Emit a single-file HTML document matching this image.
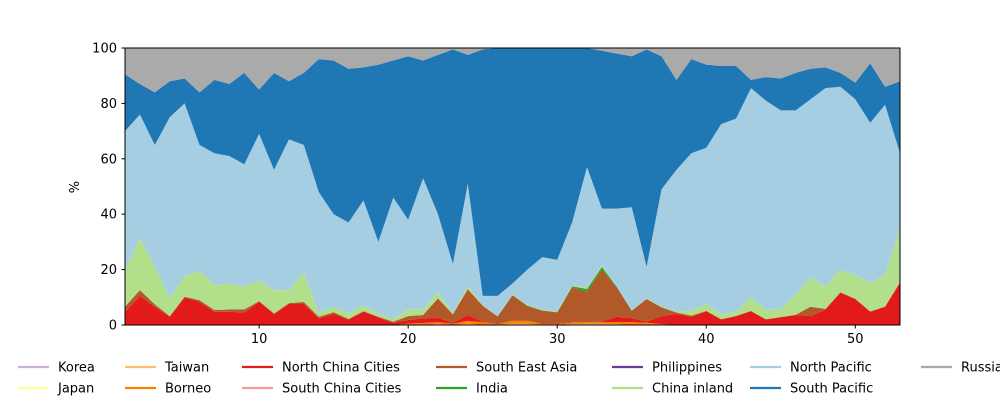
<!DOCTYPE html>
<html><head><meta charset="utf-8"><style>
body{margin:0;background:#fff;}
svg text{font-family:"DejaVu Sans","Liberation Sans",sans-serif;font-size:13px;fill:#000;}
</style></head><body>
<svg id="chart" width="1000" height="400" viewBox="0 0 1000 400" xmlns="http://www.w3.org/2000/svg">
<g id="areas"></g>
<rect x="125" y="48" width="775" height="277" fill="none" stroke="#000" stroke-width="1"/>
<g id="axes"></g>
<text x="79" y="187" text-anchor="middle" transform="rotate(-90 79 187)">%</text>
<g id="legend"></g>
</svg>
<script>
const weeks = Array.from({length:53},(_, i)=>i+1);
const seriesNames = ["Korea","Japan","Taiwan","Borneo","North China Cities","South China Cities","South East Asia","India","Philippines","China inland","North Pacific","South Pacific","Russia"];
const seriesColors = ["#cab2d6","#ffff99","#fdbf6f","#ff7f00","#e31a1c","#fb9a99","#b15928","#33a02c","#6a3d9a","#b2df8a","#a6cee3","#1f78b4","#aaaaaa"];
const korea = new Array(53).fill(0);
const japan = new Array(53).fill(0);
const taiwan = [0,0,0,0,0,0,0,0,0,0,0,0,0,0,0,0,0,0,0,0,0,0.3,0,0.5,0,0,0.5,0.4,0,0,0.3,0.4,0.4,0.3,0,0,0,0,0,0,0,0,0,0,0,0,0,0,0,0,0,0,0];
const borneo = [0,0,0,0,0,0,0,0,0,0,0,0,0,0,0,0,0,0,0,0.5,0.7,0.7,0.5,1.0,1,0.3,1.0,1.1,0.3,0.3,0.5,0.6,0.6,0.7,1,0.8,0.3,0,0,0,0,0,0,0,0,0,0,0,0,0,0,0,0];
const northChina = [4.8,10.5,6.6,3,10,8.4,4.8,4.8,4.5,8.4,4,7.6,7.6,2.4,4,2,4.8,2.8,0.8,1.3,1.7,1.6,0.3,2.1,0.2,0.2,0,0,0.2,0.2,0.2,0,0.2,2,1.5,0.4,2.9,4,3,5,2,3.2,5,2,2.8,3.6,3.2,5.6,11.7,9.4,4.8,6.6,15.3];
const southChina = new Array(53).fill(0);
const southEastAsia = [1.8,2.1,0.9,0.2,0.2,0.6,0.6,0.8,1.1,0.2,0.2,0.3,0.7,0.6,0.6,0.2,0.2,0.2,0.4,1.4,1.2,7,3.1,9.3,5.8,2.6,9.3,5.3,4.7,4.1,12.5,11,18.8,10.6,2.7,8.2,3.2,0.5,0.4,0.1,0.1,0.1,0.1,0.1,0.1,0.1,3.4,0.2,0.1,0.1,0.1,0.1,0.1];
const india = [0,0,0,0,0,0,0,0,0,0,0,0,0,0,0,0,0,0,0,0,0,0,0,0,0,0,0,0.2,0.1,0,0.5,1,1,0.2,0,0,0,0,0,0,0,0,0,0,0,0,0,0,0,0,0,0,0];
const philippines = new Array(53).fill(0);
const chinaInland = [13.3,18.7,13.5,6.4,7.5,10.5,9,9.4,8.3,7.4,8.4,4.7,10.6,1.4,1.9,2,2,1,1,2.5,2.1,2.2,0.3,1.1,0.2,0.1,0.2,0.1,0.1,0.2,0.3,0.5,0.5,0.1,0.2,0.2,0.2,0.3,1.8,2.5,1.9,1.5,4.9,3.6,2.8,7.3,10.6,8.2,8.1,8.6,10.4,11.4,19.5];
const northPacific = [50.1,44.7,44,65.4,62.3,45.5,47.6,46,44.1,53,43.4,54.4,46.1,43.6,33.5,32.8,38,26,43.8,32.3,47.3,28.2,17.8,37,3.3,7.3,4,12.9,19.1,18.7,22.7,43.5,20.5,28.1,37.1,11.4,42.4,51.2,56.8,56.4,68.5,69.7,75.5,75.3,71.8,66.5,64.3,71.5,66.1,63.4,57.7,61.4,27.1];
const southPacific = [20.5,11,19,13,9,19,26.5,26,33,16,35,21,26,48,55.5,55.5,48,64,49.5,59,42.5,57.5,77.5,46.5,89,89.5,85,80,75.5,76.5,63,43,57,56,54.5,78.5,48,32.5,34,30,21,19,3,8.5,11.5,13.5,11,7.5,5,6,21.5,6.5,26];
const russia = [9.5,13,16,12,11,16,11.5,13,9,15,9,12,9,4,4.5,7.5,7,6,4.5,3,4.5,2.5,0.5,2.5,0.5,0,0,0,0,0,0,0,1,2,3,0.5,3,11.5,4,6,6.5,6.5,11.5,10.5,11,9,7.5,7,9,12.5,5.5,14,12];
const xTicks = [10,20,30,40,50];
const yTicks = [0,20,40,60,80,100];

const series = [korea,japan,taiwan,borneo,northChina,southChina,southEastAsia,india,philippines,chinaInland,northPacific,southPacific,russia];
const X0=125,X1=900,Y0=325,Y1=48;
function xs(v){return X0+(v-1)/(53-1)*(X1-X0);}
function ys(v){v=Math.min(100,Math.max(0,v));return Y0-v/100*(Y0-Y1);}
const NS="http://www.w3.org/2000/svg";
const areas=document.getElementById('areas');
let base=new Array(53).fill(0);
series.forEach((s,k)=>{
  const top=base.map((b,i)=>b+s[i]);
  let d="";
  weeks.forEach((w,i)=>{d+=(i?"L":"M")+xs(w).toFixed(2)+","+ys(top[i]).toFixed(2);});
  for(let i=52;i>=0;i--){d+="L"+xs(weeks[i]).toFixed(2)+","+ys(base[i]).toFixed(2);}
  d+="Z";
  const p=document.createElementNS(NS,'path');
  p.setAttribute('d',d);
  p.setAttribute('fill',seriesColors[k]);
  
  
  areas.appendChild(p);
  base=top;
});
const axes=document.getElementById('axes');
xTicks.forEach(t=>{
  const l=document.createElementNS(NS,'line');
  l.setAttribute('x1',xs(t));l.setAttribute('x2',xs(t));l.setAttribute('y1',325);l.setAttribute('y2',328.5);l.setAttribute('stroke','#000');
  
  
  axes.appendChild(l);
  const tx=document.createElementNS(NS,'text');
  tx.setAttribute('x',xs(t));tx.setAttribute('y',343);tx.setAttribute('text-anchor','middle');tx.textContent=t;
  
  
  axes.appendChild(tx);
});
yTicks.forEach(t=>{
  const l=document.createElementNS(NS,'line');
  l.setAttribute('x1',121.5);l.setAttribute('x2',125);l.setAttribute('y1',ys(t));l.setAttribute('y2',ys(t));l.setAttribute('stroke','#000');
  
  
  axes.appendChild(l);
  const tx=document.createElementNS(NS,'text');
  tx.setAttribute('x',117);tx.setAttribute('y',ys(t)+4.5);tx.setAttribute('text-anchor','end');tx.textContent=t;
  
  
  axes.appendChild(tx);
});
const legendCols=[18,125,242,436,612,750,921];
const leg=document.getElementById('legend');
seriesNames.forEach((n,k)=>{
  const col=Math.floor(k/2),row=k%2;
  const x=legendCols[col],y=row?388:367;
  const g=document.createElementNS(NS,'g');
  
  
  const l=document.createElementNS(NS,'line');
  l.setAttribute('x1',x);l.setAttribute('x2',x+31);l.setAttribute('y1',y);l.setAttribute('y2',y);
  l.setAttribute('stroke',seriesColors[k]);l.setAttribute('stroke-width',2.2);
  
  
  g.appendChild(l);
  const tx=document.createElementNS(NS,'text');
  tx.setAttribute('x',x+40);tx.setAttribute('y',y+4.5);tx.textContent=n;
  
  
  g.appendChild(tx);
  leg.appendChild(g);
});
</script>
</body></html>
